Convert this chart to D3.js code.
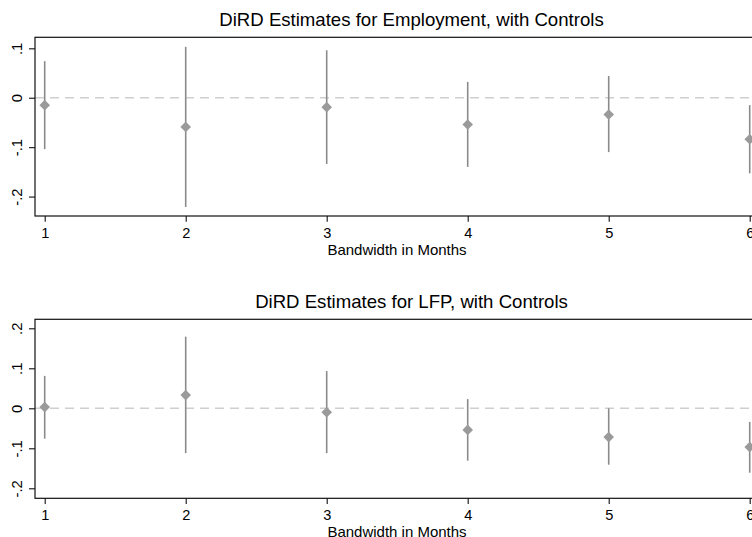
<!DOCTYPE html>
<html><head><meta charset="utf-8">
<script src="https://cdn.jsdelivr.net/npm/d3@7"></script>
<style>body{margin:0;background:#fff}svg{display:block}text{font-family:"Liberation Sans",Arial,Helvetica,sans-serif;fill:#000}</style>
</head><body><svg id="c" width="752" height="537"></svg>
<script>
const bandwidth = [1, 2, 3, 4, 5, 6];
const empEst = [-0.015, -0.059, -0.019, -0.054, -0.034, -0.084];
const empLo  = [-0.104, -0.221, -0.134, -0.140, -0.110, -0.153];
const empHi  = [0.074, 0.103, 0.096, 0.032, 0.044, -0.015];
const lfpEst = [0.003, 0.033, -0.010, -0.054, -0.072, -0.097];
const lfpLo  = [-0.076, -0.112, -0.112, -0.131, -0.141, -0.161];
const lfpHi  = [0.081, 0.179, 0.093, 0.023, 0.000, -0.034];
const empTicks = [-0.2, -0.1, 0, 0.1];
const lfpTicks = [-0.2, -0.1, 0, 0.1, 0.2];
const titles = ["DiRD Estimates for Employment, with Controls", "DiRD Estimates for LFP, with Controls"];
const xTitle = "Bandwidth in Months";

const svg = d3.select("#c");
const fmt = v => v === 0 ? "0" : (v < 0 ? "-" : "") + String(Math.abs(v)).replace(/^0/, "");

const panels = [
  {est: empEst, lo: empLo, hi: empHi, ticks: empTicks, title: titles[0], top: 37.3, bottom: 216, dom: [-0.2393, 0.1223]},
  {est: lfpEst, lo: lfpLo, hi: lfpHi, ticks: lfpTicks, title: titles[1], top: 319.3, bottom: 498.3, dom: [-0.225, 0.2225]}
];

const left = 35, right = 759.4;
const x = d3.scaleLinear().domain([1, 6]).range([44.7, 749.7]);
const diamond = d3.symbol(d3.symbolSquare, 56);

panels.forEach(p => {
  const y = d3.scaleLinear().domain(p.dom).range([p.bottom, p.top]);
  const g = svg.append("g");
  // title
  g.append("text").attr("x", 411.5).attr("y", p.top - 11.6).attr("text-anchor", "middle")
    .style("font-size", "18.6px").text(p.title);
  // zero line
  g.append("line").attr("x1", left).attr("x2", right).attr("y1", y(0)).attr("y2", y(0))
    .attr("stroke", "#cfcfcf").attr("stroke-width", 1.6).attr("stroke-dasharray", "9,6");
  // error bars
  g.selectAll(".eb").data(bandwidth).join("line")
    .attr("x1", d => x(d)).attr("x2", d => x(d))
    .attr("y1", (d, i) => y(p.lo[i])).attr("y2", (d, i) => y(p.hi[i]))
    .attr("stroke", "#8a8a8a").attr("stroke-width", 1.6);
  // markers
  g.selectAll(".pt").data(bandwidth).join("path")
    .attr("d", diamond)
    .attr("transform", (d, i) => `translate(${x(d)},${y(p.est[i])}) rotate(45)`)
    .attr("fill", "#9a9a9a");
  // frame
  g.append("rect").attr("x", left).attr("y", p.top).attr("width", right - left).attr("height", p.bottom - p.top)
    .attr("fill", "none").attr("stroke", "#111").attr("stroke-width", 1.2);
  // y axis
  const ya = g.append("g").attr("transform", `translate(${left},0)`)
    .call(d3.axisLeft(y).tickValues(p.ticks).tickFormat(fmt).tickSize(6).tickPadding(0));
  ya.select(".domain").remove();
  ya.selectAll(".tick line").attr("stroke", "#111").attr("stroke-width", 1.1);
  ya.selectAll(".tick text").attr("x", null).attr("dy", null)
    .attr("transform", "translate(-12.7,0) rotate(-90)")
    .attr("text-anchor", "middle").style("font-size", "14.8px").attr("fill", "#000");
  // x axis
  const xa = g.append("g").attr("transform", `translate(0,${p.bottom})`)
    .call(d3.axisBottom(x).tickValues(bandwidth).tickFormat(d3.format("d")).tickSize(5.7).tickPadding(0));
  xa.select(".domain").remove();
  xa.selectAll(".tick line").attr("stroke", "#111").attr("stroke-width", 1.1);
  xa.selectAll(".tick text").attr("dy", null).attr("y", 21.6)
    .style("font-size", "14.6px").attr("fill", "#000");
  g.append("text").attr("x", 397).attr("y", p.bottom + 39).attr("text-anchor", "middle")
    .style("font-size", "15px").text(xTitle);
});
</script></body></html>
